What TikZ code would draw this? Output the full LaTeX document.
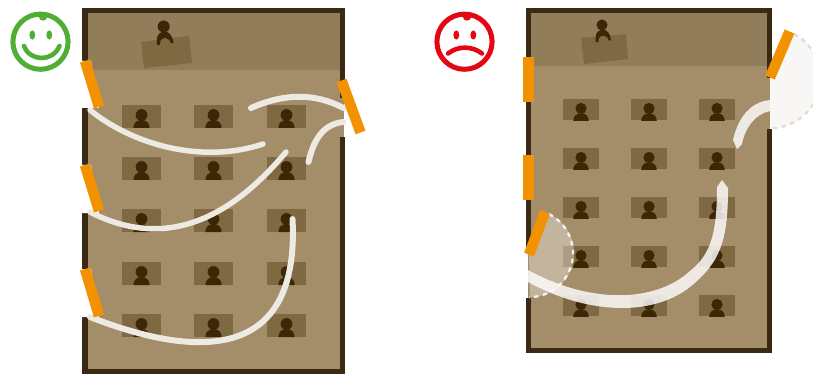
\documentclass[tikz,border=0pt]{standalone}
\definecolor{wall}{HTML}{3A2A14}
\definecolor{floorc}{HTML}{A48E69}
\definecolor{frontc}{HTML}{927D5A}
\definecolor{seat}{HTML}{7F6943}
\definecolor{body}{HTML}{3D2606}
\definecolor{doorc}{HTML}{F39200}
\definecolor{flow}{HTML}{EDEAE4}
\definecolor{happy}{HTML}{4FAE33}
\definecolor{sad}{HTML}{E30613}
\tikzset{
  x=1pt,y=-1pt,
  door/.style={line width=10.5pt,doorc},
  seatbox/.style={fill=seat},
  flowshape/.style={fill=flow},
  flowline/.style={draw=flow,line cap=round},
  wedge/.style={dash pattern=on 4.5pt off 4.5pt,line width=2.3pt},
  face/.style={line width=5pt,line cap=round},
  facepart/.style={line width=4.6pt,line cap=round}
}
\newcommand\seated[3]{%
  \begin{scope}[shift={(#1,#2)},scale=#3]
    \fill[body] (0,0) circle (5.9);
    \fill[body] (-8.2,13) .. controls (-8.2,7.5) and (-4,5) .. (0,5) .. controls (4,5) and (8.2,7.5) .. (8.2,13) -- cycle;
  \end{scope}}
\newcommand\lecturer[3]{%
  \begin{scope}[shift={(#1,#2)},scale=#3]
    \fill[body] (0,0) circle (6);
    \fill[body] (-6.9,18.5) -- (-6.9,13) .. controls (-6.9,8) and (-3,5) .. (1,5) .. controls (5,5) and (9.2,9) .. (9.7,16.5) -- (7.2,17) .. controls (6.7,13.5) and (4,11.5) .. (1,11.5) .. controls (-2,11.5) and (-3.9,13.5) .. (-3.9,18.5) -- cycle;
  \end{scope}}
\begin{document}
\begin{tikzpicture}
\useasboundingbox (0,0) rectangle (813,374);
\fill[white] (0,0) rectangle (813,374);

% ---------- left room ----------
\fill[wall] (82,8) rectangle (345,374);
\fill[floorc] (87.5,13.5) rectangle (339.5,369);
\fill[frontc] (87.5,13.5) rectangle (339.5,70);
\fill[white] (80,61) -- (91,61) -- (99,108) -- (80,108) -- cycle;
\fill[white] (80,165) -- (91,165) -- (99,213) -- (80,213) -- cycle;
\fill[white] (80,269) -- (91,269) -- (99,317) -- (80,317) -- cycle;
\fill[floorc] (339,98) rectangle (343.5,137);
\fill[white] (343.5,98) rectangle (356,137);
% lecturer
\fill[seat] (141,42) -- (189,36) -- (192,63) -- (144,68) -- cycle;
\lecturer{163.7}{26.5}{1}
% seats
\foreach \cx in {141.5,213.5,286.5}
  \foreach \ty in {105,157,209,262,314} {
    \fill[seatbox] (\cx-19.5,\ty) rectangle (\cx+19.5,\ty+23);
    \seated{\cx}{\ty+10}{1}
  }
% flows
\draw[flowline,line width=5.5pt] (90,110) .. controls (130,143) and (200,165) .. (263,144);
\draw[flowline,line width=5.5pt] (90,212) .. controls (160,248) and (225,225) .. (286,152);
\draw[flowline,line width=6pt] (90,317) .. controls (200,360) and (300,360) .. (292.5,219);
\draw[flowline,line width=6pt] (343.5,108) .. controls (315,93) and (285,93) .. (251,108);
\draw[flowline,line width=6pt] (343.5,122) .. controls (322,124) and (313,142) .. (308.5,162);
% doors
\draw[door] (85,61) -- (99,107);
\draw[door] (85,165) -- (99,211);
\draw[door] (85,269) -- (99,316);
\draw[door] (341.5,80.5) -- (360.5,132.5);

% ---------- right room ----------
\fill[wall] (526,8) rectangle (772,353);
\fill[floorc] (531,13) rectangle (767,348);
\fill[frontc] (531,13) rectangle (767,66);
\fill[white] (520,253) rectangle (528,298);
\fill[floorc] (528,253) rectangle (531,298);
\fill[floorc] (767,78) rectangle (770,129);
\fill[white] (770,78) rectangle (813,129);
% lecturer
\fill[seat] (581,38) -- (626,34) -- (628,59) -- (584,64) -- cycle;
\lecturer{602}{25}{0.92}
% seats
\foreach \cx in {581,649,717}
  \foreach \ty in {99,148,197,246,295} {
    \fill[seatbox] (\cx-18,\ty) rectangle (\cx+18,\ty+21);
    \seated{\cx}{\ty+9.5}{0.95}
  }
% swing areas
\fill[white,fill opacity=.35] (529,255) -- (550,214) arc[start angle=-63,end angle=90,radius=44] -- cycle;
\draw[wedge,white,opacity=.85] (549,214) arc[start angle=-63,end angle=90,radius=44];
\begin{scope}
  \clip (770,0) rectangle (813,374);
  \fill[white!93!floorc] (770,78) -- (794,34) arc[start angle=-62,end angle=90,radius=50] -- cycle;
  \draw[wedge,flow!85!floorc] (794,34) arc[start angle=-62,end angle=90,radius=50];
\end{scope}
% flows
\fill[white,fill opacity=.82] (528,270) .. controls (590,304) and (655,303) .. (690,271) .. controls (710,255) and (717,235) .. (717,187) -- (722,180) -- (728,188) .. controls (728,235) and (722,258) .. (698,280) .. controls (660,318) and (590,316) .. (528,282) -- cycle;
\fill[flowshape] (770,100) .. controls (750,102) and (738,118) .. (733,140) -- (737,149) -- (742,144) .. controls (745,128) and (755,114) .. (770,111) -- cycle;
% doors
\draw[door] (528.5,57) -- (528.5,102);
\draw[door] (528.5,155) -- (528.5,200);
\draw[door] (545,212) -- (529,254.5);
\draw[door] (789.5,31.5) -- (770,77.5);

% ---------- faces ----------
\draw[happy,face] (40.5,41.7) circle (27.6);
\fill[happy] (43,16.5) circle (4.2);
\fill[happy] (32.3,35) ellipse (2.9 and 4.6);
\fill[happy] (49.3,35) ellipse (2.9 and 4.6);
\draw[happy,facepart] (24,46) .. controls (30,62) and (53,62) .. (59.5,46);
\draw[sad,face] (464.5,41.7) circle (27.6);
\fill[sad] (467,16.5) circle (4.2);
\fill[sad] (456.3,35) ellipse (2.9 and 4.6);
\fill[sad] (473.3,35) ellipse (2.9 and 4.6);
\draw[sad,facepart] (448,53.5) .. controls (458,45.7) and (472,45.7) .. (482,53.5);
\end{tikzpicture}
\end{document}
